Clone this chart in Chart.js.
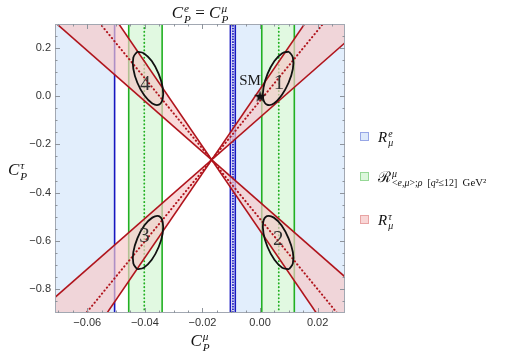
<!DOCTYPE html>
<html>
<head>
<meta charset="utf-8">
<script src="https://cdn.jsdelivr.net/npm/chart.js@4.4.1/dist/chart.umd.min.js"></script>
<style>
  body { margin: 0; background: #fff; }
  #wrap { position: relative; width: 517px; height: 359px; font-family: "Liberation Serif", serif; color: #111; }
  #wrap canvas { position: absolute; left: 0; top: 0; }
  .t { position: absolute; white-space: nowrap; line-height: 1; }
  .i { font-style: italic; }
  .sc { display: inline-block; vertical-align: -0.42em; font-size: 0.66em; line-height: 0.95; margin-left: 1px; text-align: left; }
  .sc > span { display: block; }
  .key { position: absolute; left: 360px; width: 7px; height: 7px; border: 1px solid; }
</style>
</head>
<body>
<div id="wrap">
  <canvas id="c" width="517" height="359"></canvas>

  <div class="t" style="left:0;width:400px;top:3px;text-align:center;font-size:17px">
    <span class="i">C</span><span class="sc"><span class="i">e</span><span class="i">P</span></span> = <span class="i">C</span><span class="sc"><span class="i">μ</span><span class="i">P</span></span>
  </div>
  <div class="t" style="left:8px;top:160px;font-size:17px">
    <span class="i">C</span><span class="sc"><span class="i">τ</span><span class="i">P</span></span>
  </div>
  <div class="t" style="left:0;width:400px;top:331px;text-align:center;font-size:17px">
    <span class="i">C</span><span class="sc"><span class="i">μ</span><span class="i">P</span></span>
  </div>

  <div class="key" style="top:132px;background:#dde9fb;border-color:#97a6e6"></div>
  <div class="t" style="left:378px;top:129px;font-size:15px">
    <span class="i">R</span><span class="sc"><span class="i">e</span><span class="i">μ</span></span>
  </div>
  <div class="key" style="top:172px;background:#dcf7dc;border-color:#96d896"></div>
  <div class="t" style="left:378px;top:169px;font-size:15px">
    <span>ℛ</span><span class="sc"><span class="i">μ</span><span>&lt;<span class="i">e</span>,<span class="i">μ</span>&gt;;<span class="i">ρ</span> &nbsp;[<span class="i">q</span>²≤12]</span></span><span style="font-size:0.72em;vertical-align:-0.35em"> &nbsp;GeV²</span>
  </div>
  <div class="key" style="top:215px;background:#f9d6d6;border-color:#e8a4a4"></div>
  <div class="t" style="left:378px;top:212px;font-size:15px">
    <span class="i">R</span><span class="sc"><span class="i">τ</span><span class="i">μ</span></span>
  </div>
</div>

<script>
// axes
const xLimits = [-0.0712, 0.0295];
const yLimits = [-0.9, 0.3];
const xMajorTicks = [-0.06, -0.04, -0.02, 0, 0.02];
const xTickLabels = ["−0.06", "−0.04", "−0.02", "0.00", "0.02"];
const xMinorTicks = [-0.07, -0.065, -0.055, -0.05, -0.045, -0.035, -0.03, -0.025, -0.015, -0.01, -0.005, 0.005, 0.01, 0.015, 0.025];
const yMajorTicks = [-0.8, -0.6, -0.4, -0.2, 0, 0.2];
const yTickLabels = ["−0.8", "−0.6", "−0.4", "−0.2", "0.0", "0.2"];
const yMinorTicks = [-0.85, -0.75, -0.7, -0.65, -0.55, -0.5, -0.45, -0.35, -0.3, -0.25, -0.15, -0.1, -0.05, 0.05, 0.1, 0.15, 0.25];

// R_mu^e (blue), R_mu (green) : vertical bands
const blueBands = [[-0.0712, -0.0505], [-0.0086, 0.0295]];
const blueSolid = [-0.0505, -0.0103, -0.0086];
const blueDotted = [-0.0094];
const greenBands = [[-0.0456, -0.0340], [0.0006, 0.0119]];
const greenDotted = [-0.0402, 0.0065];

// R_mu^tau (red) : two wedges, lines given at x = lineEnds
const lineEnds = [-0.0712, 0.0295];
const risingShallow = [-0.835, 0.222];
const risingCentral = [-1.058, 0.412];
const risingSteep = [-1.216, 0.546];
const fallingShallow = [0.307, -0.750];
const fallingCentral = [0.530, -0.940];
const fallingSteep = [0.688, -1.074];

// best fit contours
const ellipse1X = [0.0101, 0.0114, 0.0114, 0.0099, 0.0075, 0.0048, 0.0024, 0.0011, 0.0012, 0.0026, 0.0050, 0.0077];
const ellipse1Y = [0.185, 0.161, 0.114, 0.056, 0.004, -0.030, -0.035, -0.011, 0.036, 0.093, 0.146, 0.179];
const ellipse2X = [0.0101, 0.0114, 0.0114, 0.0099, 0.0075, 0.0048, 0.0024, 0.0011, 0.0012, 0.0026, 0.0050, 0.0077];
const ellipse2Y = [-0.718, -0.694, -0.647, -0.590, -0.537, -0.504, -0.498, -0.522, -0.569, -0.626, -0.679, -0.712];
const ellipse3X = [-0.0427, -0.0440, -0.0440, -0.0426, -0.0402, -0.0374, -0.0351, -0.0338, -0.0338, -0.0352, -0.0376, -0.0404];
const ellipse3Y = [-0.718, -0.694, -0.647, -0.590, -0.537, -0.504, -0.498, -0.522, -0.569, -0.626, -0.679, -0.712];
const ellipse4X = [-0.0427, -0.0440, -0.0440, -0.0426, -0.0402, -0.0374, -0.0351, -0.0338, -0.0338, -0.0352, -0.0376, -0.0404];
const ellipse4Y = [0.185, 0.161, 0.114, 0.056, 0.004, -0.030, -0.035, -0.011, 0.036, 0.093, 0.146, 0.179];
const ellipseLabels = ["1", "2", "3", "4"];
const ellipseLabelX = [0.0066, 0.0063, -0.0401, -0.0399];
const ellipseLabelY = [0.054, -0.593, -0.581, 0.050];
const smPoint = { x: 0, y: 0 };
const smLabelAt = { x: -0.0035, y: 0.062 };

const RED = "#b0141c", GREEN = "#22b022", BLUE = "#1717c0";
const yLo = -1.3, yHi = 0.7;

const star = document.createElement("canvas");
star.width = star.height = 13;
{
  const s = star.getContext("2d");
  s.beginPath();
  for (let i = 0; i < 10; i++) {
    const r = i % 2 ? 2.5 : 6.2, a = -Math.PI / 2 + (i * Math.PI) / 5;
    s.lineTo(6.5 + r * Math.cos(a), 6.9 + r * Math.sin(a));
  }
  s.closePath();
  s.fillStyle = "#111";
  s.fill();
}

const band = (b, color, order) => ({
  data: [{ x: b[0], y: yLo }, { x: b[0], y: yHi }, { x: b[1], y: yHi }, { x: b[1], y: yLo }],
  fill: "shape", backgroundColor: color, borderColor: "transparent", borderWidth: 0, order,
});
const vline = (x, color, dash, order) => ({
  data: [{ x, y: yLo }, { x, y: yHi }],
  borderColor: color, borderWidth: dash ? 1.8 : 1.6, borderDash: dash || [],
  borderCapStyle: dash ? "round" : "butt", fill: false, order,
});
const seg = (ys, dash) => ({
  data: lineEnds.map((x, i) => ({ x, y: ys[i] })),
  borderColor: RED, borderWidth: dash ? 2 : 1.6, borderDash: dash || [],
  borderCapStyle: dash ? "round" : "butt", fill: false, order: 50,
});
const wedge = (a, b) => ({
  data: [{ x: lineEnds[0], y: a[0] }, { x: lineEnds[1], y: a[1] }, { x: lineEnds[1], y: b[1] }, { x: lineEnds[0], y: b[0] }],
  fill: "shape", backgroundColor: "rgba(246,200,200,0.68)", borderColor: "transparent", borderWidth: 0, order: 60,
});
const ellipse = (xs, ys) => ({
  data: xs.map((x, i) => ({ x, y: ys[i] })).concat([{ x: xs[0], y: ys[0] }]),
  borderColor: "#111", borderWidth: 1.8, tension: 0.4, fill: false, order: 40,
});

const datasets = [
  ...blueBands.map((b) => band(b, "#e2eefc", 100)),
  ...blueSolid.map((x) => vline(x, BLUE, null, 90)),
  ...blueDotted.map((x) => vline(x, BLUE, [0.3, 2.4], 90)),
  ...greenBands.map((b) => band(b, "#e1f9e1", 80)),
  ...greenBands.flat().map((x) => vline(x, GREEN, null, 70)),
  ...greenDotted.map((x) => vline(x, GREEN, [0.3, 3.4], 70)),
  wedge(risingShallow, risingSteep),
  wedge(fallingShallow, fallingSteep),
  seg(risingShallow), seg(risingSteep), seg(risingCentral, [0.3, 3.6]),
  seg(fallingShallow), seg(fallingSteep), seg(fallingCentral, [0.3, 3.6]),
  ellipse(ellipse1X, ellipse1Y),
  ellipse(ellipse2X, ellipse2Y),
  ellipse(ellipse3X, ellipse3Y),
  ellipse(ellipse4X, ellipse4Y),
  { data: [smPoint], showLine: false, pointStyle: star, pointRadius: 6, order: 30 },
];

const frame = {
  id: "frame",
  afterDatasetsDraw(chart) {
    const { ctx, chartArea: a, scales: { x, y } } = chart;
    ctx.save();
    // labels inside the plot
    ctx.fillStyle = "#333";
    ctx.textAlign = "center";
    ctx.textBaseline = "middle";
    ctx.font = '21px "Liberation Serif"';
    ellipseLabels.forEach((t, i) =>
      ctx.fillText(t, x.getPixelForValue(ellipseLabelX[i]), y.getPixelForValue(ellipseLabelY[i])));
    ctx.fillStyle = "#1a1a1a";
    ctx.font = '15px "Liberation Serif"';
    ctx.fillText("SM", x.getPixelForValue(smLabelAt.x), y.getPixelForValue(smLabelAt.y));

    // frame and ticks
    ctx.strokeStyle = "#a2a8b2";
    ctx.lineWidth = 1;
    ctx.strokeRect(a.left + 0.5, a.top + 0.5, a.width - 1, a.height - 1);
    ctx.strokeStyle = "#8e949c";
    ctx.beginPath();
    const xt = (v, len) => {
      const p = Math.round(x.getPixelForValue(v)) + 0.5;
      ctx.moveTo(p, a.bottom); ctx.lineTo(p, a.bottom - len);
      ctx.moveTo(p, a.top); ctx.lineTo(p, a.top + len);
    };
    const yt = (v, len) => {
      const p = Math.round(y.getPixelForValue(v)) + 0.5;
      ctx.moveTo(a.left, p); ctx.lineTo(a.left + len, p);
      ctx.moveTo(a.right, p); ctx.lineTo(a.right - len, p);
    };
    xMajorTicks.forEach((v) => xt(v, 5));
    xMinorTicks.forEach((v) => xt(v, 2.5));
    yMajorTicks.forEach((v) => yt(v, 5));
    yMinorTicks.forEach((v) => yt(v, 2.5));
    ctx.stroke();

    ctx.fillStyle = "#333";
    ctx.font = '11px "Liberation Sans"';
    ctx.textAlign = "center";
    xMajorTicks.forEach((v, i) => ctx.fillText(xTickLabels[i], x.getPixelForValue(v), a.bottom + 10));
    ctx.textAlign = "right";
    yMajorTicks.forEach((v, i) => ctx.fillText(yTickLabels[i], a.left - 4, y.getPixelForValue(v)));
    ctx.restore();
  },
};

new Chart(document.getElementById("c"), {
  type: "line",
  data: { datasets },
  options: {
    responsive: false,
    animation: false,
    devicePixelRatio: 1,
    layout: { padding: { left: 55, top: 24, right: 172, bottom: 46 } },
    scales: {
      x: { type: "linear", min: xLimits[0], max: xLimits[1], display: false },
      y: { type: "linear", min: yLimits[0], max: yLimits[1], display: false },
    },
    datasets: { line: { clip: 0, pointRadius: 0, tension: 0 } },
    plugins: { legend: { display: false }, tooltip: { enabled: false } },
  },
  plugins: [frame],
});
</script>
</body>
</html>
